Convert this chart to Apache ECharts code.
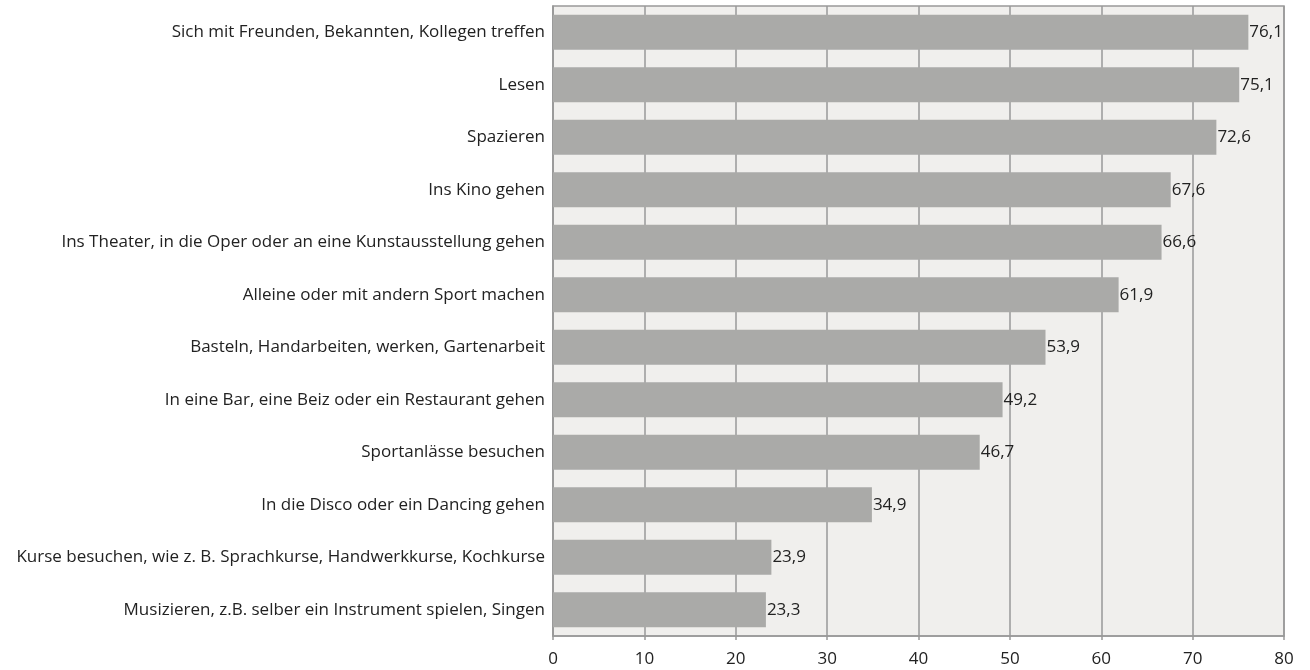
<!DOCTYPE html>
<html><head><meta charset="utf-8">
<script src="https://cdn.jsdelivr.net/npm/echarts@6/dist/echarts.min.js"></script>
<style>html,body{margin:0;padding:0;background:#fff}#c{width:1310px;height:670px}</style>
</head><body><div id="c"></div>
<script>
var categories = [
  "Sich mit Freunden, Bekannten, Kollegen treffen",
  "Lesen",
  "Spazieren",
  "Ins Kino gehen",
  "Ins Theater, in die Oper oder an eine Kunstausstellung gehen",
  "Alleine oder mit andern Sport machen",
  "Basteln, Handarbeiten, werken, Gartenarbeit",
  "In eine Bar, eine Beiz oder ein Restaurant gehen",
  "Sportanlässe besuchen",
  "In die Disco oder ein Dancing gehen",
  "Kurse besuchen, wie z. B. Sprachkurse, Handwerkkurse, Kochkurse",
  "Musizieren, z.B. selber ein Instrument spielen, Singen"
];
var values = [76.1, 75.1, 72.6, 67.6, 66.6, 61.9, 53.9, 49.2, 46.7, 34.9, 23.9, 23.3];
var xTicks = [0, 10, 20, 30, 40, 50, 60, 70, 80];

var chart = echarts.init(document.getElementById('c'), null, {renderer: 'canvas'});
var font = "'Open Sans', sans-serif";
chart.setOption({
  animation: false,
  textStyle: {fontFamily: font},
  grid: {left: 553, right: 26, top: 6, bottom: 34, show: true, backgroundColor: '#f0efed', borderColor: '#999', borderWidth: 1.5, containLabel: false},
  xAxis: {
    type: 'value', min: xTicks[0], max: xTicks[xTicks.length - 1], interval: 10,
    axisLine: {show: true, lineStyle: {color: '#999', width: 1.5}},
    axisTick: {show: true, length: 4, lineStyle: {color: '#999', width: 1.5}},
    splitLine: {show: true, lineStyle: {color: '#999', width: 1.5}},
    axisLabel: {color: '#222', fontSize: 17, fontFamily: font, margin: 15}
  },
  yAxis: {
    type: 'category', data: categories, inverse: true,
    axisLine: {show: true, lineStyle: {color: '#999', width: 1.5}},
    axisTick: {show: false},
    axisLabel: {color: '#222', fontSize: 17, fontFamily: font, margin: 8}
  },
  series: [{
    type: 'bar', data: values, barCategoryGap: '33%',
    itemStyle: {color: '#aaaaa8'},
    label: {show: true, position: 'right', distance: 1, color: '#222', fontSize: 17, fontFamily: font,
      formatter: function (p) { return p.value.toFixed(1).replace('.', ','); }}
  }]
});
</script></body></html>
